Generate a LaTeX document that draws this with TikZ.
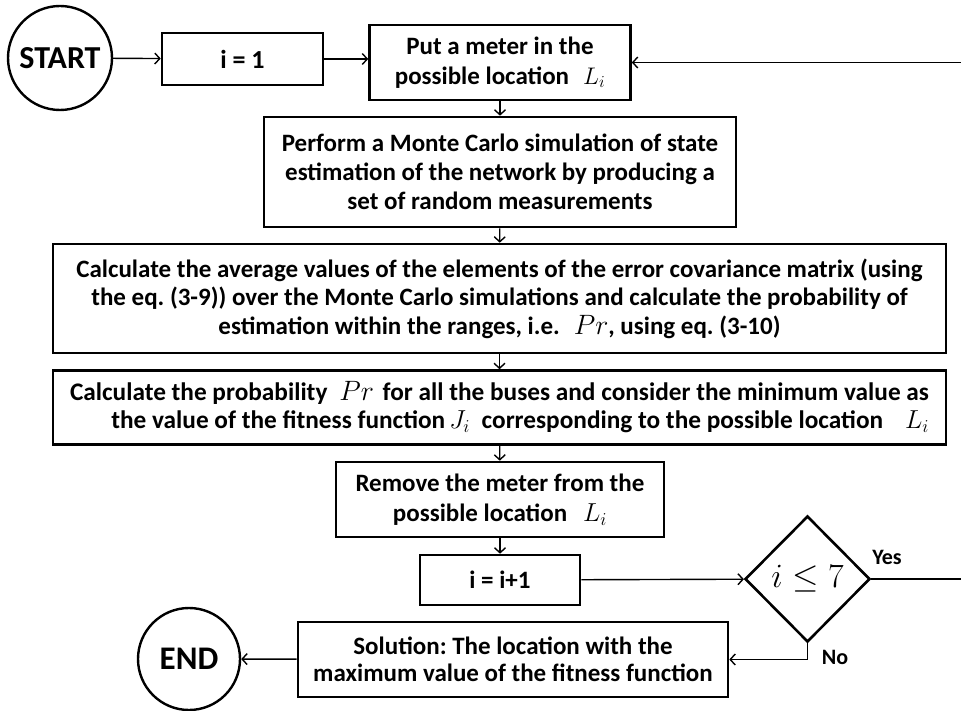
\RequirePackage{fix-cm}
\documentclass[tikz,border=0pt]{standalone}
\usepackage{fontspec}
\setmainfont{Carlito}
\usetikzlibrary{shapes.geometric,arrows.meta}
\frenchspacing

% math symbol set at an explicit size inside the text
\newcommand{\mth}[2]{{\fontsize{#1}{#1}\selectfont$#2$}}

\begin{document}
\begin{tikzpicture}[x=1pt,y=-1pt,
  box/.style={draw, line width=2.6pt, rectangle, inner sep=0pt, align=center,
    font=\bfseries\fontsize{25}{28.5}\selectfont},
  term/.style={draw, line width=2.4pt, circle, inner sep=0pt, minimum size=104pt,
    font=\bfseries\fontsize{32}{36}\selectfont},
  test/.style={draw, line width=2.6pt, diamond, inner sep=0pt,
    font=\fontsize{34}{40}\selectfont},
  flow/.style={line width=1.4pt, -{Straight Barb[length=5pt,width=11pt]}},
  lbl/.style={font=\bfseries\fontsize{22}{24}\selectfont}
]
\useasboundingbox (0,0) rectangle (961,711);
\clip (0,0) rectangle (961,711);

% terminals
\node[term] (start) at (60,58) {START};
\node[term, minimum size=102pt, font=\bfseries\fontsize{33}{36}\selectfont] (finish) at (189,659) {END};

% process steps
\node[box, minimum width=161pt, minimum height=52pt, font=\bfseries\fontsize{26}{28}\selectfont] (init) at (242.5,59) {i = 1};
\node[box, minimum width=261pt, minimum height=75pt, font=\bfseries\fontsize{25}{30}\selectfont] (put) at (500,62.5)
  {Put a meter in the\\possible location\hspace{14pt}\mth{24}{L_i}};
\node[box, minimum width=472pt, minimum height=110pt, font=\bfseries\fontsize{25}{29}\selectfont] (mc) at (500,172)
  {Perform a Monte Carlo simulation of state\\estimation of the network by producing a\\set of random measurements};
\node[box, minimum width=893pt, minimum height=109pt] (calc) at (499.5,298.5)
  {Calculate the average values of the elements of the error covariance matrix (using\\the eq. (3-9)) over the Monte Carlo simulations and calculate the probability of\\estimation within the ranges, i.e.\hspace{14pt}\mth{28}{Pr}, using eq. (3-10)};
\node[box, align=right, minimum width=893pt, minimum height=74pt, font=\bfseries\fontsize{25.3}{28}\selectfont] (prob) at (499.5,407.5)
  {Calculate the probability\hspace{12pt}\mth{28}{Pr}\hspace{3pt} for all the buses and consider the minimum value as\\the value of the fitness function\hspace{4pt}\mth{26}{J_i}\hspace{6pt} corresponding to the possible location\hspace{22pt}\mth{26}{L_i}};
\node[box, minimum width=328pt, minimum height=75pt, font=\bfseries\fontsize{25}{30}\selectfont] (remove) at (500,499.5)
  {Remove the meter from the\\possible location\hspace{16pt}\mth{26}{L_i}};
\node[box, minimum width=160pt, minimum height=50pt] (inc) at (500,580) {i = i+1};
\node[test, minimum width=125pt, minimum height=126pt] (cond) at (807.5,579) {$i \le 7$};
\node[box, minimum width=430pt, minimum height=75pt, font=\bfseries\fontsize{25}{26.5}\selectfont] (sol) at (513,659.5)
  {Solution: The location with the\\maximum value of the fitness function};

% branch labels
\node[lbl] (yes) at (887,557) {Yes};
\node[lbl] (no) at (835,657) {No};

% connectors
\coordinate (loop) at (1000,579);
\draw[flow] (start) -- (init);
\draw[flow] (init.east) -- (init.east -| put.west);
\draw[flow] (put) -- (mc);
\draw[flow] (mc) -- (calc);
\draw[flow] (calc) -- (prob);
\draw[flow] (prob) -- (remove);
\draw[flow] (remove) -- (inc);
\draw[flow] (inc) -- (cond);
\draw[flow] (cond.east) -- (loop) |- (put.east);
\draw[flow] (cond.south) |- (sol.east);
\draw[flow] (sol) -- (finish);
\end{tikzpicture}
\end{document}
